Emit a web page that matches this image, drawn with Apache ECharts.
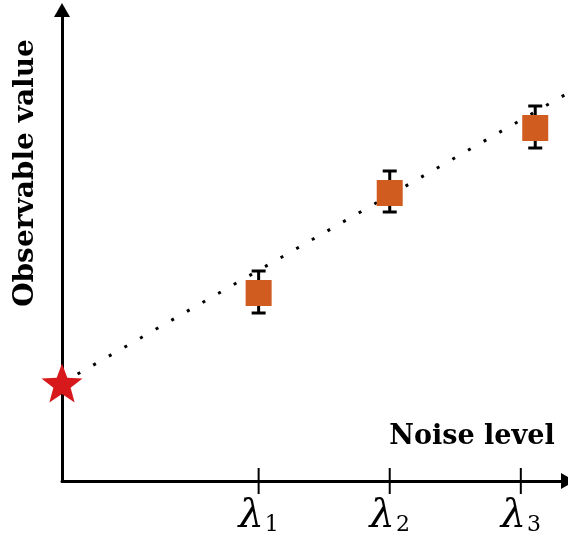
<!DOCTYPE html>
<html>
<head>
<meta charset="utf-8">
<script src="https://cdn.jsdelivr.net/npm/echarts@6/dist/echarts.min.js"></script>
<style>
  html, body { margin: 0; padding: 0; background: #fff; }
  #chart { width: 568px; height: 545px; }
</style>
</head>
<body>
<div id="chart"></div>
<script>
// noise levels (x) where measurements are taken
const noiseLevels = [1.5, 2.5, 3.5];
const tickSubscripts = ['1', '2', '3'];
// measured points
const pointX = [1.5, 2.5, 3.61];
const pointY = [1.88, 2.88, 3.53];
const errLow = [1.68, 2.69, 3.33];
const errHigh = [2.10, 3.10, 3.75];
// extrapolated zero-noise value
const zeroNoise = [0, 0.98];
const fitLine = [[0, 0.98], [3.86, 3.88]];

const starPath = 'path://M50,0 L62.34,33.01 L97.55,34.55 L69.97,56.49 L79.39,90.45 L50,71 L20.61,90.45 L30.03,56.49 L2.45,34.55 L37.66,33.01 Z';
const serif = 'DejaVu Serif';

const chart = echarts.init(document.getElementById('chart'));

chart.setOption({
  animation: false,
  grid: { left: 62, right: 0, top: 10, bottom: 64, outerBoundsMode: 'none' },
  xAxis: {
    type: 'value',
    min: 0,
    max: 3.86,
    splitLine: { show: false },
    axisLine: {
      show: true,
      symbol: ['none', 'triangle'],
      symbolSize: [16, 14],
      lineStyle: { color: '#000', width: 3 }
    },
    axisTick: { show: false },
    axisLabel: {
      customValues: noiseLevels,
      margin: 16,
      formatter: (v) => {
        const i = noiseLevels.indexOf(v);
        return '{l|λ}{s|' + tickSubscripts[i] + '}';
      },
      rich: {
        l: { fontFamily: serif, fontStyle: 'italic', fontSize: 40, color: '#000' },
        s: { fontFamily: serif, fontSize: 22, color: '#000', padding: [16, 0, 0, 1] }
      }
    }
  },
  yAxis: {
    type: 'value',
    min: 0,
    max: 4.71,
    splitLine: { show: false },
    axisLine: {
      show: true,
      symbol: ['none', 'triangle'],
      symbolSize: [16, 14],
      lineStyle: { color: '#000', width: 3 }
    },
    axisTick: { show: false },
    axisLabel: { show: false }
  },
  graphic: [
    {
      type: 'text',
      x: 26, y: 173,
      rotation: Math.PI / 2,
      style: {
        text: 'Observable value',
        font: 'bold 28px "DejaVu Serif"',
        fill: '#000',
        textAlign: 'center',
        textVerticalAlign: 'middle'
      }
    },
    {
      type: 'text',
      x: 472, y: 437,
      style: {
        text: 'Noise level',
        font: 'bold 27px "DejaVu Serif"',
        fill: '#000',
        textAlign: 'center',
        textVerticalAlign: 'middle'
      }
    }
  ],
  series: [
    {
      type: 'line',
      data: fitLine,
      symbol: 'none',
      clip: false,
      z: 1,
      lineStyle: { color: '#000', width: 3, type: [3, 15] }
    },
    {
      // tick marks crossing the x axis
      type: 'custom',
      data: noiseLevels.map((v) => [v]),
      clip: false,
      z: 3,
      renderItem: (params, api) => {
        const p = api.coord([api.value(0), 0]);
        return {
          type: 'line',
          shape: { x1: p[0], y1: p[1] - 13, x2: p[0], y2: p[1] + 13 },
          style: { stroke: '#000', lineWidth: 2 }
        };
      }
    },
    {
      // error bars
      type: 'custom',
      data: pointX.map((x, i) => [x, errLow[i], errHigh[i]]),
      z: 2,
      renderItem: (params, api) => {
        const lo = api.coord([api.value(0), api.value(1)]);
        const hi = api.coord([api.value(0), api.value(2)]);
        const w = 7;
        const st = { stroke: '#000', lineWidth: 3 };
        return {
          type: 'group',
          children: [
            { type: 'line', shape: { x1: lo[0], y1: lo[1], x2: hi[0], y2: hi[1] }, style: st },
            { type: 'line', shape: { x1: lo[0] - w, y1: lo[1], x2: lo[0] + w, y2: lo[1] }, style: st },
            { type: 'line', shape: { x1: hi[0] - w, y1: hi[1], x2: hi[0] + w, y2: hi[1] }, style: st }
          ]
        };
      }
    },
    {
      type: 'scatter',
      data: pointX.map((x, i) => [x, pointY[i]]),
      symbol: 'rect',
      symbolSize: 26,
      z: 4,
      itemStyle: { color: '#d05c20', opacity: 1 }
    },
    {
      type: 'scatter',
      data: [zeroNoise],
      symbol: starPath,
      symbolSize: [41, 39],
      clip: false,
      z: 5,
      itemStyle: { color: '#d7191c', opacity: 1 }
    }
  ]
});
</script>
</body>
</html>
